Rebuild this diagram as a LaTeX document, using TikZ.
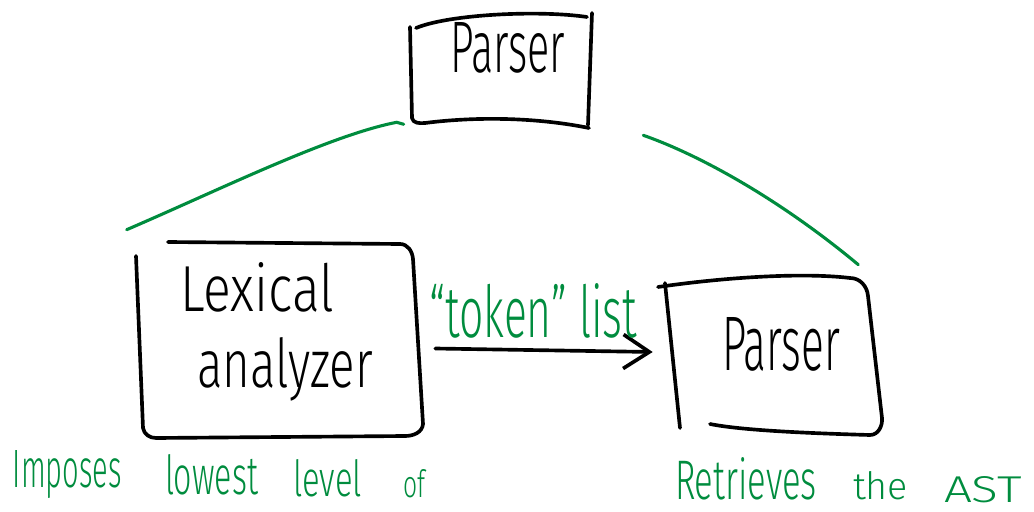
\documentclass[tikz,border=0pt]{standalone}
\usepackage{fontspec}
\newfontfamily\hand{Fira Sans Light}
\usetikzlibrary{arrows.meta,calc}
\definecolor{inkgreen}{RGB}{0,140,62}
\newlength\unitpx
\setlength\unitpx{0.025cm}
\newcommand\hw[3]{\resizebox{#1\unitpx}{#2\unitpx}{\hand #3}}
\tikzset{
  ink/.style={draw=black, line width=2.6pt, line cap=round, line join=round},
  gink/.style={draw=inkgreen, line width=2.2pt, line cap=round},
  txt/.style={inner sep=0pt, outer sep=0pt, anchor=base west},
  gtxt/.style={txt, text=inkgreen},
  boxarea/.style={draw=none, inner sep=0pt},
}
\begin{document}
\begin{tikzpicture}[x=0.025cm, y=-0.025cm]
\useasboundingbox (0,0) rectangle (1034,512);

% invisible box areas (named)
\node[boxarea, minimum width=4.5cm, minimum height=2.8cm] (topbox) at (500,71) {};
\node[boxarea, minimum width=7.2cm, minimum height=4.875cm] (lexbox) at (279,340.5) {};
\node[boxarea, minimum width=5.5cm, minimum height=3.95cm] (parbox) at (772,356) {};

% hand-drawn outlines
% top Parser box
\draw[ink] (416,28) .. controls (450,14) and (540,10) .. (587,17);
\draw[ink] (592,13) -- (588,125);
\draw[ink] (410,27) -- (412,118) to[out=-80,in=185] (425,123) .. controls (480,116) and (540,118) .. (589,128);
% Lexical analyzer box
\draw[ink] (136,256) -- (143,428) to[out=-80,in=180] (156,438) -- (405,436) to[out=0,in=-95] (423,424) -- (413,259) to[out=95,in=0] (400,244) -- (168,242);
% right Parser box
\draw[ink] (658,287) .. controls (720,278) and (800,272) .. (850,278) to[out=0,in=95] (868,296) -- (882,418) to[out=-85,in=0] (870,435) .. controls (800,433) and (740,430) .. (710,424);
\draw[ink] (665,283) -- (680,428);

% texts in boxes
\node[txt] (ttop) at (450,73) {\hw{115}{50}{Parser}};
\node[txt] (tlex1) at (180,311) {\hw{154}{49}{Lexical}};
\node[txt] (tlex2) at (197,387) {\hw{176}{50}{analyzer}};
\node[txt] (tpar) at (722,370) {\hw{118}{53}{Parser}};

% green tree edges
\coordinate (e1s) at ($(topbox.south west)+(-13,-5)$);
\coordinate (e1e) at ($(lexbox.north west)+(-8,-13)$);
\coordinate (e2s) at ($(topbox.south east)+(53,8)$);
\coordinate (e2e) at ($(parbox.north east)+(-24,-12)$);
\draw[gink] ($(e1s)+(7,2)$) -- (e1s) .. controls +(-67,13) and +(93,-40) .. (e1e);
\draw[gink] (e2s) .. controls +(57,20) and +(-78,-65) .. (e2e);

% arrow between boxes
\draw[ink, -{Straight Barb[length=0.65cm,width=0.85cm]}]
  ($(lexbox.east)+(12,8)$) -- ($(parbox.west)+(-9,-4)$);
\node[gtxt] (tok) at (429,337) {\hw{208}{54}{“token” list}};

% bottom green notes
\node[gtxt] (b1) at (13,487) {\hw{109}{37}{Imposes}};
\node[gtxt] (b2) at (165,494) {\hw{93}{40}{lowest}};
\node[gtxt] (b3) at (293,496) {\hw{69}{37}{level}};
\node[gtxt] (b4) at (403,497) {\hw{22}{28}{of}};
\node[gtxt] (b5) at (675,499) {\hw{142}{42}{Retrieves}};
\node[gtxt] (b6) at (853,499) {\hw{55}{28}{the}};
\node[gtxt] (b7) at (944,502) {\hw{78}{26}{AST}};
\end{tikzpicture}
\end{document}
